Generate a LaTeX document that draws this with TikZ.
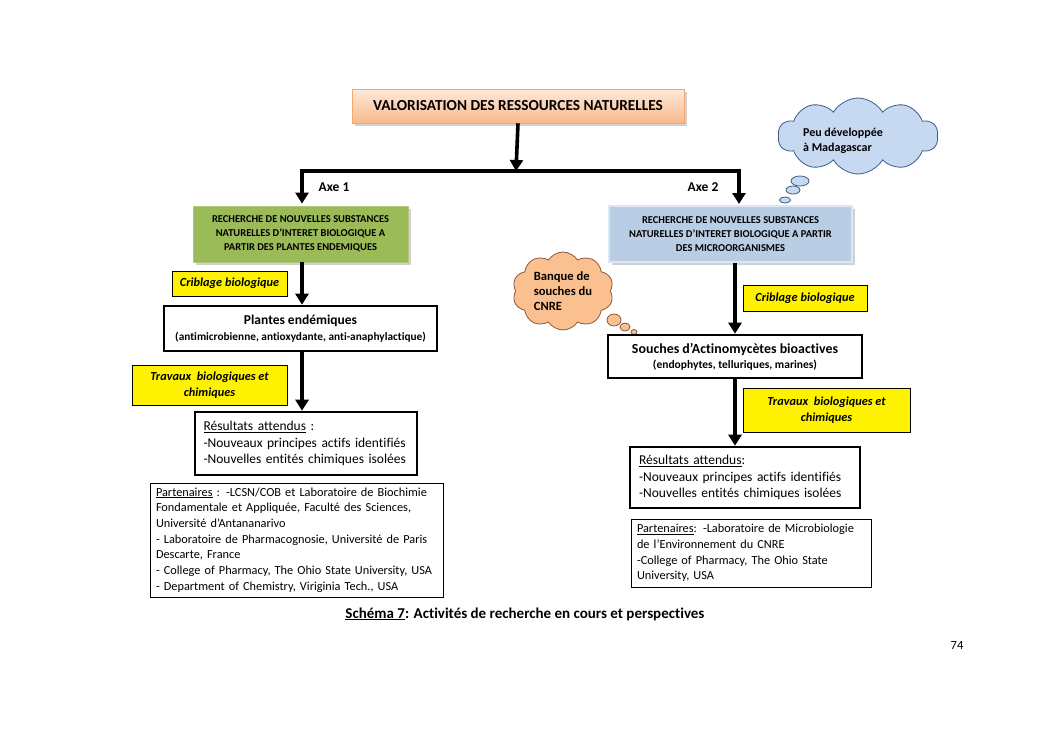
\documentclass[tikz,border=0pt]{standalone}
\usepackage{fontspec}
\setmainfont{Carlito}[Ligatures=NoCommon]
\usetikzlibrary{shapes.symbols,shapes.geometric,shadows,arrows.meta}
\definecolor{titletop}{HTML}{FDE9D9}
\definecolor{titlebot}{HTML}{F9B98C}
\definecolor{titleline}{HTML}{F4A86C}
\definecolor{greenfill}{HTML}{9BBB59}
\definecolor{bluefill}{HTML}{B9CDE5}
\definecolor{blueline}{HTML}{DCE6F2}
\definecolor{cloudblue}{HTML}{C6D9F1}
\definecolor{cloudblueline}{HTML}{385D8A}
\definecolor{cloudorange}{HTML}{FAC090}
\definecolor{cloudorangeline}{HTML}{8B5A3C}
\tikzset{
  arr/.style={line width=3.6pt,-{Triangle[length=11pt,width=13pt]}},
  thickbox/.style={draw,line width=2.6pt,fill=white,inner sep=0pt},
  ybox/.style={draw,line width=0.8pt,fill=yellow,inner sep=0pt,align=center,
    font=\bfseries\itshape\fontsize{12.3}{16}\selectfont},
  partbox/.style={draw,line width=0.8pt,fill=white,align=left,inner sep=0pt,
    font=\fontsize{12.3}{15.7}\selectfont},
  resbox/.style={draw,line width=2.6pt,fill=white,align=left,inner sep=0pt,
    font=\fontsize{13.5}{16.5}\selectfont},
  axebox/.style={inner sep=0pt,align=center,font=\bfseries\fontsize{10.5}{14}\selectfont,
    drop shadow={shadow xshift=2.5pt,shadow yshift=-2.5pt,fill=black!35}},
  bubble/.style={draw,line width=0.8pt,ellipse,inner sep=0pt},
  lbl/.style={inner sep=0pt,font=\bfseries\fontsize{13.5}{15}\selectfont}
}
\begin{document}
\begin{tikzpicture}[x=1pt,y=-1pt]
\useasboundingbox[fill=white] (0,0) rectangle (1053,745);

% title
\node[draw=titleline,line width=0.6pt,top color=titletop,bottom color=titlebot,
  minimum width=332pt,minimum height=34pt,inner sep=0pt,
  drop shadow={shadow xshift=2.5pt,shadow yshift=-2.5pt,fill=black!35},
  font=\bfseries\fontsize{15.3}{17}\selectfont] (title) at (518,106) {VALORISATION DES RESSOURCES NATURELLES};

% axis boxes
\node[axebox,fill=greenfill,draw=greenfill!80!white,line width=0.8pt,
  minimum width=215pt,minimum height=56pt] (green) at (300.5,234)
  {RECHERCHE DE NOUVELLES SUBSTANCES\\NATURELLES D’INTERET BIOLOGIQUE A\\PARTIR DES PLANTES ENDEMIQUES};
\node[axebox,fill=bluefill,draw=blueline,line width=2pt,
  minimum width=243pt,minimum height=56pt] (blue) at (730.5,234)
  {RECHERCHE DE NOUVELLES SUBSTANCES\\NATURELLES D’INTERET BIOLOGIQUE A PARTIR\\DES MICROORGANISMES};

\coordinate (hmid) at (516,171);
\draw[arr] (title.south) -- (hmid);
\draw[arr,shorten >=2pt] (hmid) -| (green.north -| 302,0);
\draw[arr,shorten >=1pt] (hmid) -| (blue.north -| 739,0);

\node[lbl] (axe1) at (334,187) {Axe 1};
\node[lbl] (axe2) at (703,187) {Axe 2};

% clouds
\node[cloud,cloud puffs=10,cloud puff arc=120,aspect=2.1,draw=cloudblueline,line width=0.8pt,
  fill=cloudblue,minimum width=160pt,minimum height=76pt,inner sep=0pt] (cloud1) at (858,136) {};
\node[inner sep=0pt,align=left,font=\bfseries\fontsize{12}{15}\selectfont] (cloud1txt) at (843,141)
  {Peu développée\\à Madagascar};
\node[bubble,draw=cloudblueline,fill=cloudblue,minimum width=18pt,minimum height=10pt] (b11) at (800,181) {};
\node[bubble,draw=cloudblueline,fill=cloudblue,minimum width=14pt,minimum height=8pt] (b12) at (793,190) {};
\node[bubble,draw=cloudblueline,fill=cloudblue,minimum width=11pt,minimum height=6pt] (b13) at (785,200) {};

\node[cloud,cloud puffs=10,cloud puff arc=115,aspect=1.3,draw=cloudorangeline,line width=0.8pt,
  fill=cloudorange,minimum width=101pt,minimum height=78pt,inner sep=0pt,align=left,
  font=\bfseries\fontsize{12.6}{15}\selectfont] (cloud2) at (563,291)
  {Banque de\\souches du\\CNRE};
\node[bubble,draw=cloudorangeline,fill=cloudorange,minimum width=14pt,minimum height=12pt] (b21) at (614,320) {};
\node[bubble,draw=cloudorangeline,fill=cloudorange,minimum width=10pt,minimum height=8pt] (b22) at (625,327) {};
\node[bubble,draw=cloudorangeline,fill=cloudorange,minimum width=6pt,minimum height=5pt] (b23) at (634,332) {};

% left column
\node[thickbox,minimum width=273pt,minimum height=45pt,align=center] (plantes) at (300.5,328.5)
  {{\bfseries\fontsize{13.5}{17}\selectfont Plantes endémiques}\\[4pt]{\bfseries\fontsize{11.3}{13}\selectfont (antimicrobienne, antioxydante, anti-anaphylactique)}};
\draw[arr] (green.south -| 302,0) -- (plantes.north -| 302,0);

\node[ybox,minimum width=115pt,minimum height=25pt] (crib1) at (229.5,283.5) {Criblage biologique};
\node[ybox,minimum width=155pt,minimum height=40pt] (trav1) at (209.5,385) {Travaux~ biologiques et\\chimiques};

\node[resbox,minimum width=222pt,minimum height=63pt,text width=205pt] (res1) at (306,443.5)
  {\underline{Résultats attendus} :\\-Nouveaux principes actifs identifiés\\-Nouvelles entités chimiques isolées};
\draw[arr] (plantes.south -| 302,0) -- (res1.north -| 302,0);

\node[partbox,minimum width=293pt,minimum height=114pt,text width=281pt] (part1) at (296.5,540)
  {\underline{Partenaires} : -LCSN/COB et Laboratoire de Biochimie\\Fondamentale et Appliquée, Faculté des Sciences,\\Université d’Antananarivo\\- Laboratoire de Pharmacognosie, Université de Paris\\Descarte, France\\- College of Pharmacy, The Ohio State University, USA\\- Department of Chemistry, Viriginia Tech., USA};

% right column
\node[thickbox,minimum width=254pt,minimum height=43pt,align=center] (souches) at (735,356.5)
  {{\bfseries\fontsize{13.9}{17}\selectfont Souches d’Actinomycètes bioactives}\\[3pt]{\bfseries\fontsize{11.5}{13}\selectfont (endophytes, telluriques, marines)}};
\draw[arr] (blue.south -| souches.north) -- (souches.north);

\node[ybox,minimum width=124pt,minimum height=26pt] (crib2) at (805,298) {Criblage biologique};
\node[ybox,minimum width=167pt,minimum height=44pt] (trav2) at (826.5,410) {Travaux~ biologiques et\\chimiques};

\node[resbox,minimum width=230pt,minimum height=61pt,text width=212pt] (res2) at (745,477.5)
  {\underline{Résultats attendus}:\\-Nouveaux principes actifs identifiés\\-Nouvelles entités chimiques isolées};
\draw[arr] (souches.south) -- (souches.south |- res2.north);

\node[partbox,minimum width=240pt,minimum height=68pt,text width=228pt] (part2) at (751,553)
  {\underline{Partenaires}: -Laboratoire de Microbiologie\\de l’Environnement du CNRE\\-College of Pharmacy, The Ohio State\\University, USA};

% caption and page number
\node[inner sep=0pt,font=\bfseries\fontsize{15}{17}\selectfont] (caption) at (525,614)
  {\underline{Schéma 7}: Activités de recherche en cours et perspectives};
\node[inner sep=0pt,font=\fontsize{12.5}{15}\selectfont] (page) at (957,645) {74};
\end{tikzpicture}
\end{document}
